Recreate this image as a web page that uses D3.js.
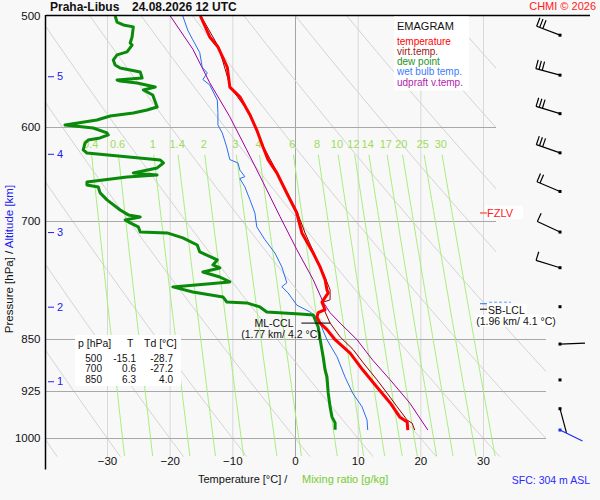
<!DOCTYPE html>
<html><head><meta charset="utf-8">
<script src="https://cdn.jsdelivr.net/npm/d3@7"></script>
<style>
body{margin:0;background:#f8f8f8;}
svg{display:block;font-family:"Liberation Sans",Arial,sans-serif;}
</style>
</head><body><svg id="c" width="600" height="500"></svg>
<script>
// ---------------- data ----------------
const pressureTicks = [500, 600, 700, 850, 925, 1000];
const tempTicks = [-30, -20, -10, 0, 10, 20, 30];
const mixingRatios = [0.4, 0.6, 1, 1.4, 2, 3, 4, 6, 8, 10, 12, 14, 17, 20, 25, 30];
const altKm = [1, 2, 3, 4, 5];
const altP = [911, 806, 713, 627, 552];

// [pressure hPa, temperature °C]
const temperature = [[500,-15.1],[517.5,-13.6],[526,-12.3],[544,-10.8],[562,-10.4],[571,-8.8],[588,-7.2],[603,-6.1],[620,-5.1],[633,-4.3],[647,-2.9],[669,-1.3],[691,0.3],[700,0.6],[714,1.1],[738,2.9],[755,4.0],[771,4.8],[784,5.1],[788,5.3],[800,4.3],[810,4.8],[814,3.7],[820,3.5],[828,4.0],[837,5.1],[850,6.3],[870,8.8],[894,10.8],[920,13.1],[944,15.2],[966,16.7],[974,17.9],[987,18.0]];
const virtTemp = [[500,-15.0],[526,-12.2],[562,-10.3],[588,-7.1],[620,-5.0],[647,-2.8],[691,0.4],[714,1.6],[746,3.5],[768,4.8],[784,5.6],[797,5.6],[800,4.5],[813,4.8],[828,5.6],[847,7.2],[865,9.3],[884,10.9],[909,13.1],[929,14.7],[950,16.3],[971,17.9],[976,18.7],[987,19.1]];
const dewPoint = [[500,-28.7],[505,-28.4],[507.4,-27.4],[509,-25.8],[517.5,-26.0],[522.7,-26.3],[524.4,-26.0],[530.4,-26.8],[533,-28.4],[537.5,-29.0],[541.9,-28.7],[544.6,-27.9],[548.1,-24.7],[553.6,-24.4],[555.4,-28.4],[556.3,-27.9],[558.1,-25.2],[561.8,-22.3],[564.6,-24.2],[569.3,-22.7],[580.6,-22.0],[583.5,-23.6],[586.4,-25.8],[589.2,-29.5],[593.1,-31.6],[598,-36.7],[601,-32.2],[605.9,-30.0],[607.9,-29.8],[610.9,-31.1],[613,-33.0],[616,-33.5],[623,-33.8],[626.2,-33.2],[633.4,-21.5],[636.5,-21.0],[641.7,-22.0],[647,-25.8],[649.2,-22.0],[651.3,-26.8],[656.7,-33.2],[659.9,-33.2],[662.1,-31.4],[668.6,-31.1],[676.3,-30.0],[687.6,-27.9],[693.2,-26.6],[695.5,-24.7],[699,-27.1],[702.4,-26.3],[707,-25.0],[712.9,-24.7],[714,-20.4],[719.9,-17.9],[728.3,-15.6],[736.7,-15.2],[746.4,-12.4],[752.6,-13.1],[756.3,-12.0],[761.3,-14.7],[767.6,-12.0],[773.9,-10.4],[780.2,-19.5],[786.7,-16.3],[793.2,-11.5],[799.7,-10.9],[801,-7.7],[806.3,-5.6],[813,-4.5],[815.6,0.8],[817,2.9],[833.2,3.7],[850,4.0],[875.3,4.5],[894.2,4.8],[904.6,5.1],[928.6,5.3],[950.2,5.6],[965.9,5.9],[975.5,6.4],[986.7,6.4]];
const wetBulb = [[500,-17.9],[512,-17.1],[520,-16.3],[531,-15.2],[544,-14.8],[549,-14.0],[555,-14.7],[560,-13.6],[574,-12.4],[586,-12.3],[598,-12.3],[606,-11.6],[620,-10.9],[633,-10.4],[636.5,-9.1],[644,-8.8],[651,-8.0],[653,-8.8],[662,-8.0],[676,-7.2],[691,-6.4],[707,-6.1],[722,-4.8],[738,-3.2],[755,-2.1],[775,-1.3],[780,-2.1],[788,-1.1],[804,0.3],[813,2.4],[820,3.5],[828,4.0],[851,5.1],[875,6.7],[905,8.0],[929,9.2],[950,10.7],[971,11.5],[987,11.6]];
const parcel = [[500,-19.9],[528,-16.3],[558,-13.6],[590,-10.4],[623,-7.7],[657,-5.1],[695,-2.4],[734,0.3],[771,2.9],[800,4.5],[814,5.6],[828,7.2],[851,9.9],[880,12.4],[909,15.2],[944,18.3],[987,21.2]];

// wind (knots, degrees)
const windP = [516, 551, 587, 626, 667, 713, 756, 806, 857, 909, 953];
const windDir = [291, 285, 287, 289, 293, 295, 287, 0, 88, 0, 165];
const windSpd = [30, 30, 30, 30, 20, 10, 10, 0, 3, 0, 3];
const sfcWind = {p: 987, dir: 116, spd: 3};

const tableRows = [["500","-15.1","-28.7"],["700","0.6","-27.2"],["850","6.3","4.0"]];
const legendItems = [["temperature","#ff0000"],["virt.temp.","#a01818"],["dew point","#1c961c"],["wet bulb temp.","#3a7cff"],["udpraft v.temp.","#b01cb0"]];
const fzlvP = 691;
const mlCcl = {p: 828, t: 4.2, km: 1.77};
const sbLcl = {p: 810, t: 4.1, km: 1.96};

// ---------------- chart ----------------
const svg = d3.select("#c");
const y = d3.scaleLog().domain([500, 1000]).range([16, 438]);
const x = d3.scaleLinear().domain([-30, 30]).range([107, 483]);
const axisX = 45.5;

function tdFromW(w, p) {
  const e = w * p / (622 + w);
  const a = Math.log(e / 6.112);
  return 243.5 * a / (17.67 - a);
}

const defs = svg.append("defs");
defs.append("clipPath").attr("id", "clipA").append("path")
  .attr("d", `M46,${y(500)}H496V${y(830)}H546V${y(1032)}H46Z`);

// isotherms
svg.append("g").selectAll("line").data(tempTicks).join("line")
  .attr("x1", d => x(d) + 0.5).attr("x2", d => x(d) + 0.5)
  .attr("y1", y(500)).attr("y2", y(1032))
  .attr("stroke", d => d === 0 ? "#a4a4a4" : "#d8d8d8").attr("stroke-width", 1);

// dry adiabats
const thetas = d3.range(-40, 130, 10).map(t => t + 273.15);
const adP = d3.range(500, 1034, 3);
svg.append("g").attr("clip-path", "url(#clipA)").selectAll("path").data(thetas).join("path")
  .attr("fill", "none").attr("stroke", "#d2d2d2").attr("stroke-width", 1)
  .attr("d", th => d3.line().x(p => x(th * Math.pow(p / 1000, 0.286) - 273.15)).y(p => y(p))(adP));

// pressure grid
svg.append("g").selectAll("line").data(pressureTicks.filter(p => p > 500)).join("line")
  .attr("x1", axisX).attr("x2", d => d < 800 ? 496 : 546)
  .attr("y1", d => Math.round(y(d)) + 0.5).attr("y2", d => Math.round(y(d)) + 0.5)
  .attr("stroke", "#a8a8a8").attr("stroke-width", 1);

// mixing ratio lines
const mrP = d3.range(628, 1034, 6);
svg.append("g").attr("clip-path", "url(#clipA)").selectAll("path").data(mixingRatios).join("path")
  .attr("fill", "none").attr("stroke", "#a6ee7c").attr("stroke-width", 1)
  .attr("d", w => d3.line().x(p => x(tdFromW(w, p))).y(p => y(p))(mrP));
svg.append("g").selectAll("text").data(mixingRatios).join("text")
  .attr("x", w => x(tdFromW(w, 620))).attr("y", 147.5)
  .attr("text-anchor", "middle").attr("font-size", 11).attr("fill", "#9edc5c")
  .text(d => d);

// profiles
const line = d3.line().x(d => x(d[1])).y(d => y(d[0]));
const drawProfile = (data, color, width) => svg.append("path").datum(data)
  .attr("fill", "none").attr("stroke", color).attr("stroke-width", width)
  .attr("stroke-linejoin", "round").attr("d", line);
drawProfile(parcel, "#a000a0", 1);
drawProfile(wetBulb, "#2a6ef0", 1);
drawProfile(virtTemp, "#990000", 1);
drawProfile(dewPoint, "#0a8a0a", 3);
drawProfile(temperature, "#ff0000", 3);

// axes lines
svg.append("line").attr("x1", axisX).attr("x2", axisX).attr("y1", 15).attr("y2", y(1053))
  .attr("stroke", "#000").attr("stroke-width", 1.5);
svg.append("line").attr("x1", 46).attr("x2", 590).attr("y1", 15.5).attr("y2", 15.5)
  .attr("stroke", "#000").attr("stroke-width", 1.5);

// pressure axis labels
const yAxis = svg.append("g").attr("transform", `translate(${axisX},0)`)
  .call(d3.axisLeft(y).tickValues(pressureTicks).tickSize(0).tickPadding(5).tickFormat(d3.format("d")));
yAxis.select(".domain").remove();
yAxis.selectAll("text").attr("font-size", 11.5).attr("font-family", "Liberation Sans, Arial, sans-serif").attr("fill", "#111");

// temperature axis labels
const xAxis = svg.append("g").attr("transform", "translate(0,455)")
  .call(d3.axisBottom(x).tickValues(tempTicks).tickSize(0).tickPadding(2).tickFormat(d3.format("d")));
xAxis.select(".domain").remove();
xAxis.selectAll("text").attr("font-size", 11.5).attr("font-family", "Liberation Sans, Arial, sans-serif").attr("fill", "#111");

// altitude marks
const alt = svg.append("g").selectAll("g").data(altKm).join("g")
  .attr("transform", (d, i) => `translate(0,${y(altP[i])})`);
alt.append("line").attr("x1", 48).attr("x2", 54).attr("y1", 0.5).attr("y2", 0.5).attr("stroke", "#2020f0");
alt.append("text").attr("x", 57).attr("y", 4).attr("font-size", 11).attr("fill", "#2020f0").text(d => d);

// titles
svg.append("text").attr("x", 50).attr("y", 11).attr("font-size", 12).attr("font-weight", "bold")
  .attr("fill", "#111").text("Praha-Libus");
svg.append("text").attr("x", 132).attr("y", 11).attr("font-size", 12).attr("font-weight", "bold")
  .attr("fill", "#111").text("24.08.2026 12 UTC");
svg.append("text").attr("x", 596).attr("y", 10).attr("text-anchor", "end").attr("font-size", 11)
  .attr("fill", "#ff2020").text("CHMI © 2026");

const yt = svg.append("text").attr("transform", "translate(12.5,259) rotate(-90)")
  .attr("text-anchor", "middle").attr("font-size", 11.5);
yt.append("tspan").attr("fill", "#111").text("Pressure [hPa] / ");
yt.append("tspan").attr("fill", "#2020f0").text("Altitude [km]");

svg.append("text").attr("x", 198).attr("y", 483).attr("font-size", 11).attr("fill", "#111").text("Temperature [°C]  /");
svg.append("text").attr("x", 302).attr("y", 483).attr("font-size", 11).attr("fill", "#77cc33").text("Mixing ratio [g/kg]");
svg.append("text").attr("x", 590).attr("y", 484).attr("text-anchor", "end").attr("font-size", 10.5).attr("fill", "#2a2aff").text("SFC: 304 m ASL");

// legend
svg.append("rect").attr("x", 394).attr("y", 16.5).attr("width", 75).attr("height", 74).attr("fill", "#fff");
svg.append("text").attr("x", 397).attr("y", 30).attr("font-size", 11).attr("fill", "#111").text("EMAGRAM");
svg.append("g").selectAll("text").data(legendItems).join("text")
  .attr("x", 397).attr("y", (d, i) => 44.5 + i * 10.3).attr("font-size", 10)
  .attr("fill", d => d[1]).text(d => d[0]);

// table
svg.append("rect").attr("x", 75).attr("y", 335).attr("width", 106).attr("height", 51).attr("fill", "#fff");
const tbl = svg.append("g").attr("font-size", 10).attr("fill", "#111");
tbl.append("text").attr("x", 78).attr("y", 347).attr("font-size", 10.5).text("p [hPa]");
tbl.append("text").attr("x", 127).attr("y", 347).attr("font-size", 10.5).text("T");
tbl.append("text").attr("x", 144).attr("y", 347).attr("font-size", 10.5).text("Td [°C]");
tableRows.forEach((r, i) => {
  [102, 136, 173].forEach((cx, j) => {
    tbl.append("text").attr("x", cx).attr("y", 361.5 + i * 10.5).attr("text-anchor", "end").text(r[j]);
  });
});

// levels
const fz = svg.append("g");
fz.append("rect").attr("x", 485).attr("y", y(fzlvP) - 7).attr("width", 38).attr("height", 13).attr("fill", "#fff");
fz.append("line").attr("x1", 480).attr("x2", 487).attr("y1", y(fzlvP)).attr("y2", y(fzlvP)).attr("stroke", "#ff2020");
fz.append("text").attr("x", 487).attr("y", y(fzlvP) + 4).attr("font-size", 11).attr("fill", "#ff2020").text("FZLV");

const sb = svg.append("g");
sb.append("line").attr("x1", 480).attr("x2", 487).attr("y1", y(sbLcl.p) - 6).attr("y2", y(sbLcl.p) - 6).attr("stroke", "#2a6ef0");
sb.append("line").attr("x1", 489).attr("x2", 511).attr("y1", y(sbLcl.p) - 7.5).attr("y2", y(sbLcl.p) - 7.5).attr("stroke", "#6b9cf5").attr("stroke-dasharray", "3,2");
sb.append("rect").attr("x", 487).attr("y", y(sbLcl.p) - 6).attr("width", 40).attr("height", 10).attr("fill", "#fff");
sb.append("rect").attr("x", 476).attr("y", y(sbLcl.p) + 5).attr("width", 80).attr("height", 12).attr("fill", "#fff");
sb.append("line").attr("x1", 480).attr("x2", 487).attr("y1", y(sbLcl.p) - 0.5).attr("y2", y(sbLcl.p) - 0.5).attr("stroke", "#000");
sb.append("text").attr("x", 488).attr("y", y(sbLcl.p) + 4).attr("font-size", 10.5).attr("fill", "#111").text("SB-LCL");
sb.append("text").attr("x", 516).attr("y", y(sbLcl.p) + 15).attr("text-anchor", "middle").attr("font-size", 10.5).attr("fill", "#111")
  .text(`(${sbLcl.km} km/ ${sbLcl.t} °C)`);

const ml = svg.append("g");
ml.append("line").attr("x1", x(mlCcl.t) - 20).attr("x2", x(mlCcl.t) + 9).attr("y1", y(mlCcl.p)).attr("y2", y(mlCcl.p)).attr("stroke", "#000");
ml.append("text").attr("x", 274).attr("y", y(mlCcl.p) + 4).attr("text-anchor", "middle").attr("font-size", 10.5).attr("fill", "#111").text("ML-CCL");
ml.append("text").attr("x", 281).attr("y", y(mlCcl.p) + 15).attr("text-anchor", "middle").attr("font-size", 10.5).attr("fill", "#111")
  .text(`(${mlCcl.km} km/ ${mlCcl.t} °C)`);

// wind barbs
const bx = 560;
function barb(g, py, dir, spd, color) {
  const yy = y(py);
  const r = dir * Math.PI / 180;
  const ux = Math.sin(r), uy = -Math.cos(r);
  const nx = -uy, ny = ux;
  const L = 25;
  if (spd >= 2.5) {
    g.append("line").attr("x1", bx).attr("y1", yy).attr("x2", bx + ux * L).attr("y2", yy + uy * L)
      .attr("stroke", color).attr("stroke-width", 1.2);
    let full = Math.floor((spd + 2.5) / 10);
    let half = ((spd + 2.5) % 10) >= 5 && spd >= 5 ? 1 : 0;
    let pos = L;
    for (let i = 0; i < full; i++) {
      g.append("line").attr("x1", bx + ux * pos).attr("y1", yy + uy * pos)
        .attr("x2", bx + ux * pos + nx * 9).attr("y2", yy + uy * pos + ny * 9)
        .attr("stroke", color).attr("stroke-width", 1.2);
      pos -= 3.3;
    }
    if (half) {
      g.append("line").attr("x1", bx + ux * pos).attr("y1", yy + uy * pos)
        .attr("x2", bx + ux * pos + nx * 4.5).attr("y2", yy + uy * pos + ny * 4.5)
        .attr("stroke", color).attr("stroke-width", 1.2);
    }
  }
  g.append("rect").attr("x", bx - 1.5).attr("y", yy - 1.5).attr("width", 3).attr("height", 3).attr("fill", color);
}
const wg = svg.append("g");
windP.forEach((p, i) => barb(wg, p, windDir[i], windSpd[i], "#000"));
barb(wg, sfcWind.p, sfcWind.dir, sfcWind.spd, "#1a2cf0");
</script>
</body></html>
